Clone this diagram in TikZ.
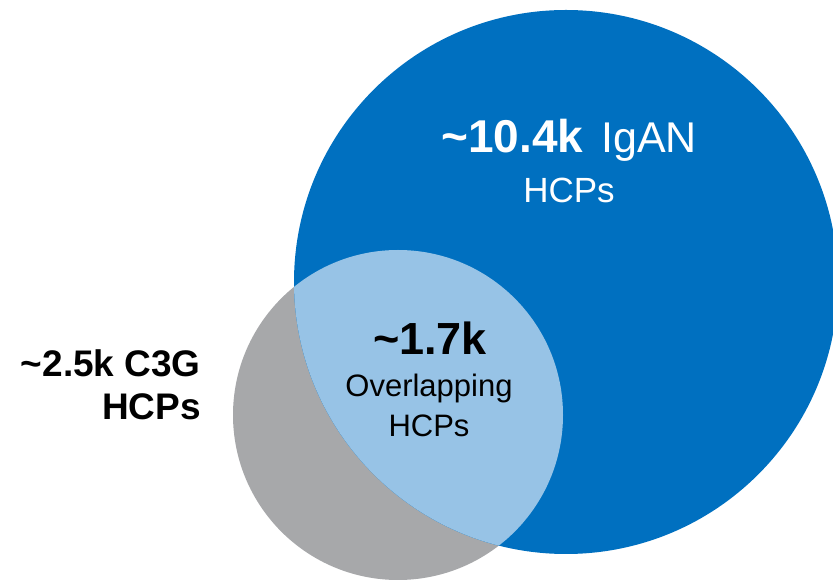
\documentclass[tikz,border=0pt]{standalone}
\usepackage{fontspec}
\setmainfont{Liberation Sans}
\definecolor{vennBlue}{RGB}{0,112,192}
\definecolor{vennLight}{RGB}{151,195,230}
\definecolor{vennGrey}{RGB}{167,168,170}
\begin{document}
\begin{tikzpicture}[x=1pt, y=1pt]
% Venn diagram of HCP counts
\def\bigr{272}
\def\smallr{165}
\providecommand{\vennSize}[1]{\fontsize{#1}{#1}\selectfont}
\useasboundingbox (0,0) rectangle (833,581);
\clip (0,0) rectangle (833,581);
\coordinate (iganC) at (566,299);
\coordinate (cthreegC) at (398,166);
% Circles
\fill[vennGrey] (cthreegC) circle (\smallr);
\fill[vennBlue] (iganC) circle (\bigr);
% Overlap
\begin{scope}
  \clip (iganC) circle (\bigr);
  \fill[vennLight] (cthreegC) circle (\smallr);
\end{scope}
% Labels
\begin{scope}[every node/.style={inner sep=0pt, anchor=base}]
  \node[text=white] (iganTop) at (569,428) {\bfseries\vennSize{46}\textasciitilde10.4k\hspace{18pt}\mdseries\vennSize{43}IgAN};
  \node[text=white] (iganSub) at (569,378) {\vennSize{35}HCPs};
  \node (ovTop) at (430,226) {\bfseries\vennSize{45}\textasciitilde1.7k};
  \node (ovMid) at (429,184) {\vennSize{31}Overlapping};
  \node (ovSub) at (429,144) {\vennSize{31}HCPs};
  \node[anchor=base east] (cthreegTop) at (201,204) {\bfseries\vennSize{37}\textasciitilde2.5k C3G};
  \node[anchor=base east] (cthreegSub) at (201,161) {\bfseries\vennSize{37}HCPs};
\end{scope}
\end{tikzpicture}
\end{document}
